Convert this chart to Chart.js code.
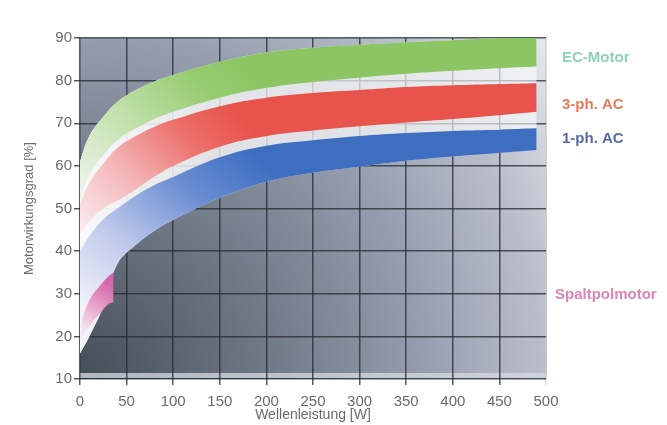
<!DOCTYPE html>
<html>
<head>
<meta charset="utf-8">
<script src="https://cdn.jsdelivr.net/npm/chart.js@4.4.1/dist/chart.umd.min.js"></script>
<style>
  html, body { margin: 0; padding: 0; background: #fff; }
  #wrap { width: 667px; height: 425px; }
</style>
</head>
<body>
<div id="wrap"><canvas id="chartEff"></canvas></div>
<script>
// Wellenleistung [W] und Wirkungsgradbänder [%]
const powerW = [0, 10, 25, 40, 60, 80, 100, 150, 200, 250, 300, 350, 400, 450, 490];
const ecUpper = [61, 67, 71.5, 75, 77.8, 79.8, 81.3, 84.4, 86.6, 87.7, 88.4, 89, 89.5, 90, 90.3];
const ecLower = [52, 58, 62.5, 66, 68.8, 71, 72.7, 76, 78.3, 79.7, 80.7, 81.6, 82.3, 82.9, 83.3];
const ac3Upper = [51, 56, 60.5, 64.2, 67, 69.2, 70.8, 74, 76, 77.1, 77.8, 78.5, 78.9, 79.2, 79.4];
const ac3Lower = [44, 47, 50, 51.8, 54.5, 57.5, 60, 64.5, 67, 68.3, 69.3, 70.2, 71, 71.9, 72.7];
const ac1Upper = [40, 43.5, 47.5, 50, 53, 55.5, 57.4, 62, 64.7, 66, 67, 67.7, 68.2, 68.5, 68.8];
const ac1Lower = [16, 20, 27, 37, 41.5, 44.8, 47.3, 52.5, 56.3, 58.4, 59.8, 61.2, 62.2, 63, 63.7];

const spaltW = [2, 10, 20, 30, 36];
const spaltUpper = [24, 28.5, 31.5, 34, 35];
const spaltLower = [20, 22.5, 25, 27.5, 28];

const xTicks = [0, 50, 100, 150, 200, 250, 300, 350, 400, 450, 500];
const yTicks = [10, 20, 30, 40, 50, 60, 70, 80, 90];

// Beschriftung rechts: Text, Farbe, Höhe auf der y-Achse
const bandNames = ['EC-Motor', '3-ph. AC', '1-ph. AC', 'Spaltpolmotor'];
const bandLabelColors = ['#8fd0bb', '#e97a58', '#566aa8', '#dc86b4'];
const bandLabelAt = [85.4, 74.2, 66.4, 29.7];

function pts(xs, ys) {
    return xs.map((x, i) => ({ x: x, y: ys[i] }));
}

// Verlauf je Band: von links unten (blass) nach rechts oben (kräftig)
function bandGradient(x0, y0, x1, y1, stops) {
    return function (context) {
        const chart = context.chart;
        if (!chart.chartArea) return null;
        const sx = chart.scales.x, sy = chart.scales.y;
        const g = chart.ctx.createLinearGradient(
            sx.getPixelForValue(x0), sy.getPixelForValue(y0),
            sx.getPixelForValue(x1), sy.getPixelForValue(y1));
        stops.forEach(s => g.addColorStop(s[0], s[1]));
        return g;
    };
}

const plotBackground = {
    id: 'plotBackground',
    beforeDraw(chart) {
        const { ctx, chartArea: a } = chart;
        ctx.save();
        ctx.fillStyle = '#ffffff';
        ctx.fillRect(0, 0, chart.width, chart.height);
        const w = a.right - a.left, h = a.bottom - a.top;
        const r = Math.sqrt(w * w + h * h);
        const g = ctx.createRadialGradient(a.left, a.bottom, 0, a.left, a.bottom, r);
        g.addColorStop(0, '#454d57');
        g.addColorStop(0.4, '#7a8391');
        g.addColorStop(0.6, '#979eb0');
        g.addColorStop(0.8, '#b8bec9');
        g.addColorStop(1, '#e7e9ef');
        ctx.fillStyle = g;
        ctx.fillRect(a.left, a.top, w + 1, h);
        // heller Streifen am unteren Rand
        ctx.fillStyle = 'rgba(215,218,226,0.75)';
        ctx.fillRect(a.left, a.bottom - 6, w + 1, 5);
        ctx.restore();
    }
};

const bandLabels = {
    id: 'bandLabels',
    afterDraw(chart) {
        const { ctx, chartArea: a } = chart;
        const sy = chart.scales.y;
        ctx.save();
        ctx.font = 'bold 15px "Liberation Sans", Arial, sans-serif';
        ctx.textBaseline = 'middle';
        ctx.textAlign = 'left';
        bandNames.forEach((name, i) => {
            ctx.fillStyle = bandLabelColors[i];
            const x = i === 3 ? a.right + 9 : a.right + 16;
            ctx.fillText(name, x, sy.getPixelForValue(bandLabelAt[i]));
        });
        ctx.restore();
    }
};

const edge = { borderWidth: 0, pointRadius: 0, pointHoverRadius: 0, tension: 0.4 };

const ctx = document.getElementById('chartEff').getContext('2d');
new Chart(ctx, {
    type: 'line',
    data: {
        datasets: [
            Object.assign({ label: 'EC-Motor', data: pts(powerW, ecUpper), fill: 1, order: 1,
                backgroundColor: bandGradient(0, 52, 160, 86, [[0, '#f1f4f0'], [0.45, '#bfe0a8'], [0.8, '#97cc72'], [1, '#8cc664']]) }, edge),
            Object.assign({ label: 'EC-Motor unten', data: pts(powerW, ecLower), fill: false, order: 1 }, edge),
            Object.assign({ label: '3-ph. AC', data: pts(powerW, ac3Upper), fill: 3, order: 1,
                backgroundColor: bandGradient(0, 44, 150, 76, [[0, '#fbeef1'], [0.4, '#f3b3b6'], [0.75, '#ec6e68'], [1, '#e8544c']]) }, edge),
            Object.assign({ label: '3-ph. AC unten', data: pts(powerW, ac3Lower), fill: false, order: 1 }, edge),
            Object.assign({ label: '1-ph. AC', data: pts(powerW, ac1Upper), fill: 5, order: 1,
                backgroundColor: bandGradient(10, 25, 170, 66, [[0, '#f2f3f8'], [0.35, '#bcc7ea'], [0.7, '#6a8dd2'], [1, '#3d6ec0']]) }, edge),
            Object.assign({ label: '1-ph. AC unten', data: pts(powerW, ac1Lower), fill: false, order: 1 }, edge),
            Object.assign({ label: 'Spaltpolmotor', data: pts(spaltW, spaltUpper), fill: 7, order: 0,
                backgroundColor: bandGradient(2, 22, 34, 32, [[0, '#f6e4ee'], [0.5, '#e9a3c8'], [1, '#d466ae']]) }, edge),
            Object.assign({ label: 'Spaltpolmotor unten', data: pts(spaltW, spaltLower), fill: false, order: 0 }, edge),
            // heller Schein zwischen den Bändern
            Object.assign({ label: 'Hülle', data: pts(powerW, ecUpper), fill: 5, order: 10,
                backgroundColor: bandGradient(0, 50, 500, 50, [[0, 'rgba(255,255,255,0.96)'], [0.3, 'rgba(255,255,255,0.75)'], [1, 'rgba(255,255,255,0.6)']]) }, edge)
        ]
    },
    options: {
        responsive: true,
        maintainAspectRatio: false,
        animation: false,
        events: [],
        layout: { padding: { left: 22, right: 121, top: 38, bottom: 0 } },
        plugins: {
            legend: { display: false },
            tooltip: { enabled: false }
        },
        scales: {
            x: {
                type: 'linear',
                min: 0,
                max: 500,
                afterBuildTicks: s => { s.ticks = xTicks.map(v => ({ value: v })); },
                afterFit: s => { s.height = 46; },
                ticks: { color: '#6a6a6a', padding: 8, font: { family: '"Liberation Sans", Arial, sans-serif', size: 15 } },
                grid: {
                    color: c => c.tick && c.tick.value === 500 ? 'rgba(200,204,212,0.6)' : 'rgba(38,43,52,0.78)',
                    lineWidth: 1.5,
                    tickLength: 6
                },
                border: { display: false },
                title: {
                    display: true,
                    text: 'Wellenleistung [W]',
                    color: '#6a6a6a',
                    padding: { top: 0, bottom: 1 },
                    font: { family: '"Liberation Sans", Arial, sans-serif', size: 14 }
                }
            },
            y: {
                min: 10,
                max: 90,
                afterBuildTicks: s => { s.ticks = yTicks.map(v => ({ value: v })); },
                afterFit: s => { s.width = 58; },
                ticks: { color: '#6a6a6a', padding: 2, font: { family: '"Liberation Sans", Arial, sans-serif', size: 15 } },
                grid: { color: 'rgba(38,43,52,0.78)', lineWidth: 1.5, tickLength: 6 },
                border: { display: false },
                title: {
                    display: true,
                    text: 'Motorwirkungsgrad [%]',
                    color: '#6a6a6a',
                    padding: { top: 0, bottom: 0 },
                    font: { family: '"Liberation Sans", Arial, sans-serif', size: 13 }
                }
            }
        }
    },
    plugins: [plotBackground, bandLabels]
});
</script>
</body>
</html>
